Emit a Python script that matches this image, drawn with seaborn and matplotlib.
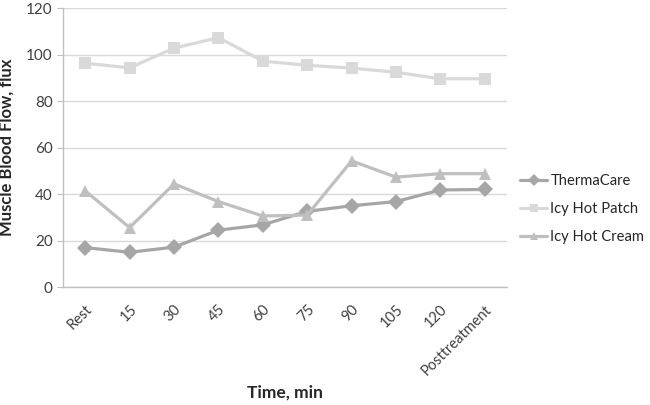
import pandas as pd
import seaborn as sns
import matplotlib.pyplot as plt

# chart data
time_points = ['Rest', '15', '30', '45', '60', '75', '90', '105', '120', 'Posttreatment']
thermacare = [17, 15, 17.2, 24.5, 26.8, 32.6, 35, 36.8, 41.8, 42]
icy_hot_patch = [96.3, 94.3, 102.8, 107.3, 97.2, 95.4, 94.2, 92.4, 89.6, 89.6]
icy_hot_cream = [41.4, 25.6, 44.4, 36.8, 30.6, 31, 54.3, 47.3, 48.8, 48.8]
series_names = ['ThermaCare', 'Icy Hot Patch', 'Icy Hot Cream']

df = pd.DataFrame({
    'Time': time_points * 3,
    'Flow': thermacare + icy_hot_patch + icy_hot_cream,
    'Group': [n for n in series_names for _ in time_points],
})

sns.set_style('white')
plt.rcParams['font.family'] = ['Lato', 'DejaVu Sans']

fig = plt.figure(figsize=(6.5, 4.05), dpi=100)
ax = fig.add_axes([0.097, 0.291, 0.683, 0.689])

palette = {'ThermaCare': '#a6a6a6', 'Icy Hot Patch': '#d9d9d9', 'Icy Hot Cream': '#bfbfbf'}
markers = {'ThermaCare': 'D', 'Icy Hot Patch': 's', 'Icy Hot Cream': '^'}

sns.lineplot(data=df, x='Time', y='Flow', hue='Group', style='Group',
             palette=palette, markers=markers, dashes=False, sort=False,
             linewidth=2.3, markersize=8, markeredgewidth=0, ax=ax)

ax.set_xlim(-0.5, len(time_points) - 0.5)
ax.set_ylim(0, 120)
ax.set_yticks(range(0, 121, 20))
ax.yaxis.grid(True, color='#d9d9d9', linewidth=1)
ax.set_axisbelow(True)

ax.set_xticks(range(len(time_points)))
ax.set_xticklabels(time_points, rotation=45, ha='right', rotation_mode='anchor',
                   fontsize=10.5, color='#404040')
ax.set_xticks([i - 0.5 for i in range(len(time_points) + 1)], minor=True)
ax.tick_params(axis='x', which='major', length=0, pad=11)
ax.tick_params(axis='x', which='minor', length=5, color='#bfbfbf', width=1, direction='out')
ax.tick_params(axis='y', length=4, color='#bfbfbf', labelsize=11, labelcolor='#404040',
               left=True, direction='out')

for side in ['top', 'right']:
    ax.spines[side].set_visible(False)
for side in ['left', 'bottom']:
    ax.spines[side].set_color('#bfbfbf')
    ax.spines[side].set_linewidth(1)

ax.set_xlabel('Time, min', fontsize=12.5, fontweight='bold', labelpad=5)
ax.set_ylabel('Muscle Blood Flow, flux', fontsize=12, fontweight='bold', labelpad=8)

handles, labels = ax.get_legend_handles_labels()
ax.legend(handles, labels, loc='center left', bbox_to_anchor=(1.005, 0.28),
          frameon=False, fontsize=10.6, handlelength=1.9, handletextpad=0.2,
          labelspacing=0.95, labelcolor='#262626', markerscale=0.8,
          borderaxespad=0.3)

fig.savefig('out.png', dpi=100)
